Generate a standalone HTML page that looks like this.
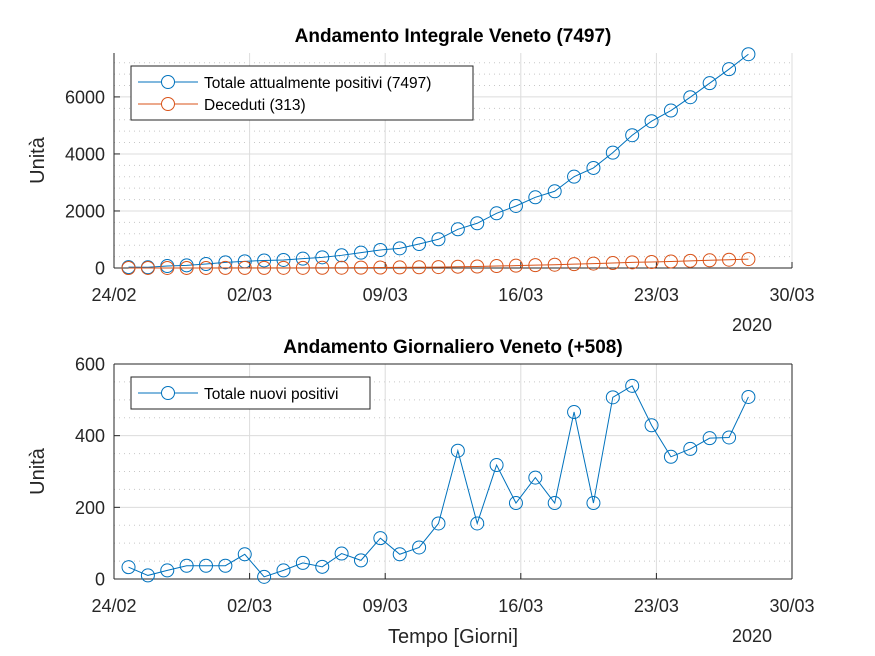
<!DOCTYPE html>
<html><head><meta charset="utf-8"><style>
html,body{margin:0;padding:0;background:#fff;}
svg{display:block;font-family:"Liberation Sans","DejaVu Sans",sans-serif;}
</style></head><body>
<svg id="chart" width="875" height="656" viewBox="0 0 875 656"></svg>
<script>
const xTickLabels = ["24/02","02/03","09/03","16/03","23/03","30/03"];
const totalPositives = [30,25,70,94,140,199,234,265,281,327,374,445,538,632,690,842,1007,1358,1569,1919,2175,2480,2691,3204,3509,4046,4657,5148,5522,5990,6482,6973,7497];
const deaths = [0,1,1,2,2,3,4,4,6,6,9,10,13,16,20,26,32,46,53,69,82,101,115,134,155,174,198,210,230,252,270,290,313];
const newPositives = [33,10,24,37,37,37,69,6,24,45,34,71,52,114,69,88,155,358,155,318,212,283,212,466,212,507,539,429,341,363,393,395,508];
const topYTicks = [0,2000,4000,6000];
const botYTicks = [0,200,400,600];

const NS="http://www.w3.org/2000/svg";
const svg=document.getElementById('chart');
function mk(tag,attrs,parent){const e=document.createElementNS(NS,tag);for(const k in attrs)e.setAttribute(k,attrs[k]);(parent||svg).appendChild(e);return e;}
const X0=114,X1=792,DAYS=35;
const xs=d=>X0+(d/DAYS)*(X1-X0);
const dayOf=i=>i+0.75;
const BLUE="#0072BD",ORANGE="#D95319";

function axes(o){
  const g=mk('g',{});
  
  
  const ys=v=>o.yb-(v/o.ymax)*(o.yb-o.yt);
  for(let v=o.minor;v<o.ymax;v+=o.minor){if(v%o.major===0)continue;const l=mk('line',{x1:X0,x2:X1,y1:ys(v),y2:ys(v),stroke:'#c8c8c8','stroke-dasharray':'1 4','stroke-width':1},g);}
  o.yticks.forEach(v=>{if(v>0){const l=mk('line',{x1:X0,x2:X1,y1:ys(v),y2:ys(v),stroke:'#dcdcdc','stroke-width':1},g);}
    const t=mk('text',{x:X0-9,y:ys(v)+6.5,'text-anchor':'end','font-size':18,fill:'#262626'},g);t.textContent=v;
    mk('line',{x1:X0,x2:X0+6,y1:ys(v),y2:ys(v),stroke:'#262626'},g);});
  xTickLabels.forEach((lab,i)=>{const x=xs(i*7);
    if(i>0){const l=mk('line',{x1:x,x2:x,y1:o.yt,y2:o.yb,stroke:'#dcdcdc'},g);}
    mk('line',{x1:x,x2:x,y1:o.yb,y2:o.yb-6,stroke:'#262626'},g);
    const t=mk('text',{x:x,y:o.yb+33,'text-anchor':'middle','font-size':18,fill:'#262626'},g);t.textContent=lab;});
  mk('line',{x1:X0,x2:X0,y1:o.yt,y2:o.yb,stroke:'#262626'},g);
  mk('line',{x1:X0,x2:X1,y1:o.yb,y2:o.yb,stroke:'#262626'},g);
  if(o.box){mk('line',{x1:X1,x2:X1,y1:o.yt,y2:o.yb,stroke:'#262626'},g);mk('line',{x1:X0,x2:X1,y1:o.yt,y2:o.yt,stroke:'#262626'},g);}
  const t=mk('text',{x:453,y:o.yt-11,'text-anchor':'middle','font-size':19,'font-weight':'bold',fill:'#000'},g);t.textContent=o.title;
  const yl=mk('text',{x:0,y:0,transform:`translate(44,${(o.yt+o.yb)/2}) rotate(-90)`,'text-anchor':'middle','font-size':20,fill:'#262626'},g);yl.textContent='Unità';
  const yr=mk('text',{x:752,y:o.yb+63,'text-anchor':'middle','font-size':18,fill:'#262626'},g);yr.textContent='2020';
  o.series.forEach(s=>{
    const sg=mk('g',{},g);
    mk('polyline',{points:s.data.map((v,i)=>xs(dayOf(i))+','+ys(v)).join(' '),fill:'none',stroke:s.color,'stroke-width':1},sg);
    s.data.forEach((v,i)=>{const c=mk('circle',{cx:xs(dayOf(i)),cy:ys(v),r:6.5,fill:'none',stroke:s.color,'stroke-width':1},sg);});
  });
  const lg=mk('g',{},g);
  mk('rect',{x:131,y:o.yt+13,width:o.legW,height:o.series.length*22+10,fill:'#fff',stroke:'#262626'},lg);
  o.series.forEach((s,k)=>{const y=o.yt+13+16+k*22;
    const e=mk('g',{},lg);
    mk('line',{x1:138,x2:198,y1:y,y2:y,stroke:s.color},e);mk('circle',{cx:168,cy:y,r:6.5,fill:'#fff',stroke:s.color},e);
    const t=mk('text',{x:204,y:y+6,'font-size':15.5,fill:'#000'},e);t.textContent=s.label;});
}
axes({name:'cumulative-chart',yt:53,yb:268,ymax:7540,major:2000,minor:400,yticks:topYTicks,box:false,legW:342,
  title:'Andamento Integrale Veneto (7497)',
  series:[{name:'series-total-positives',data:totalPositives,color:BLUE,label:'Totale attualmente positivi (7497)'},
          {name:'series-deaths',data:deaths,color:ORANGE,label:'Deceduti (313)'}]});
axes({name:'daily-chart',yt:364,yb:579,ymax:600,major:200,minor:50,yticks:botYTicks,box:true,legW:239,
  title:'Andamento Giornaliero Veneto (+508)',
  series:[{name:'series-new-positives',data:newPositives,color:BLUE,label:'Totale nuovi positivi'}]});
const xt=mk('text',{x:453,y:643,'text-anchor':'middle','font-size':20,fill:'#262626'});xt.textContent='Tempo [Giorni]';


</script>
</body></html>
